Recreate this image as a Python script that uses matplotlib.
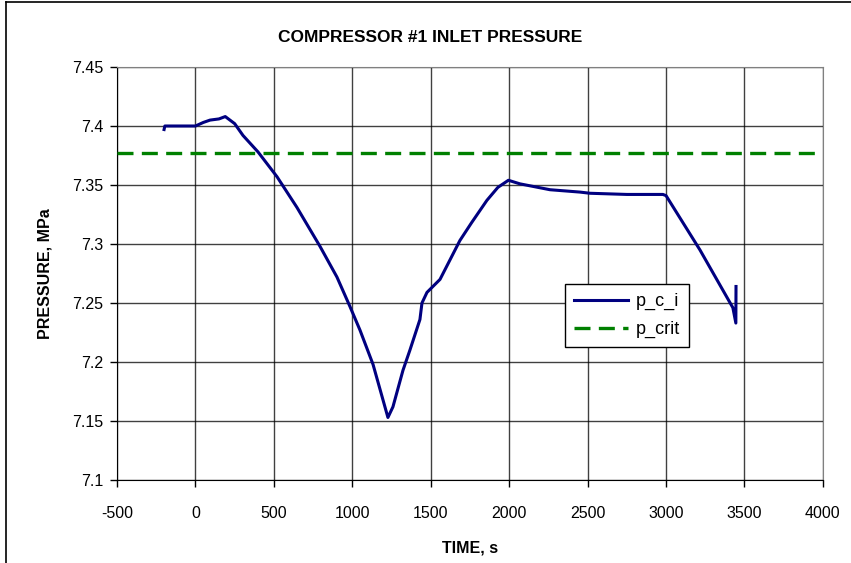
import matplotlib.pyplot as plt
from matplotlib.lines import Line2D

# compressor inlet pressure trace, MPa vs time, s
time_s = [-200, -195, -100, 0, 50, 93, 150, 190, 250, 303, 399, 520, 647,
          794, 902, 985, 1049, 1132, 1227, 1259, 1323, 1367, 1431, 1444,
          1476, 1559, 1686, 1760, 1858, 1928, 1995, 2068, 2260, 2451,
          2515, 2751, 2980, 3000, 3216, 3426, 3445, 3446]
p_c_i = [7.397, 7.400, 7.400, 7.400, 7.403, 7.405, 7.406, 7.408, 7.402,
         7.392, 7.378, 7.357, 7.331, 7.298, 7.272, 7.247, 7.227, 7.198,
         7.153, 7.162, 7.193, 7.210, 7.236, 7.250, 7.259, 7.270, 7.303,
         7.318, 7.337, 7.348, 7.354, 7.351, 7.346, 7.344, 7.343, 7.342,
         7.342, 7.341, 7.295, 7.246, 7.233, 7.264]

# critical pressure
crit_time = [-500, 4000]
p_crit = [7.377, 7.377]

plt.rcParams['font.family'] = ['Liberation Sans', 'DejaVu Sans']
plt.rcParams['axes.unicode_minus'] = False

fig = plt.figure(figsize=(8.51, 5.63), dpi=100)
ax = fig.add_axes([0.1375, 0.1474, 0.8295, 0.7336])

crit_dash = (4.8, 2.5)
ax.plot(crit_time, p_crit, color='#008000', lw=2.4, dashes=crit_dash,
        label='p_crit', zorder=3)
ax.plot(time_s, p_c_i, color='#000080', lw=2.2, label='p_c_i', zorder=4)

ax.set_xlim(-500, 4000)
ax.set_ylim(7.1, 7.45)
ax.set_xticks(range(-500, 4001, 500))
ax.set_yticks([7.1, 7.15, 7.2, 7.25, 7.3, 7.35, 7.4, 7.45])
ax.set_yticklabels(['7.1', '7.15', '7.2', '7.25', '7.3', '7.35', '7.4', '7.45'])
ax.grid(True, color='#000000', lw=1.0, alpha=0.75)
ax.set_axisbelow(True)
ax.tick_params(direction='out', length=5, width=1, labelsize=11.5,
               color='#000000')
ax.tick_params(axis='x', pad=14)
ax.tick_params(axis='y', pad=5)

for side in ['top', 'right']:
    ax.spines[side].set_color('#808080')
for side in ['left', 'bottom']:
    ax.spines[side].set_color('#000000')

fig.text(430 / 851, 1 - 37 / 563, 'COMPRESSOR #1 INLET PRESSURE',
         fontsize=12.5, fontweight='bold', ha='center', va='center')
ax.set_xlabel('TIME, s', fontsize=11.5, fontweight='bold', labelpad=14)
ax.set_ylabel('PRESSURE, MPa', fontsize=11.5, fontweight='bold', labelpad=14)

handles = [Line2D([], [], color='#000080', lw=2.2),
           Line2D([], [], color='#008000', lw=2.4, dashes=crit_dash)]
leg = ax.legend(handles, ['p_c_i', 'p_crit'], loc='upper left',
                bbox_to_anchor=(0.635, 0.4745), fontsize=13, frameon=True,
                fancybox=False, edgecolor='#000000', framealpha=1,
                handlelength=3.0, handletextpad=0.4, borderpad=0.5,
                labelspacing=0.6, borderaxespad=0)
leg.get_frame().set_linewidth(1.0)

# chart frame on the left and top
fig.add_artist(Line2D([0.007, 0.007], [0, 0.996], color='#000000', lw=1.2,
                      transform=fig.transFigure))
fig.add_artist(Line2D([0.007, 1.0], [0.996, 0.996], color='#000000', lw=1.2,
                      transform=fig.transFigure))

fig.savefig('out.png', dpi=100)
